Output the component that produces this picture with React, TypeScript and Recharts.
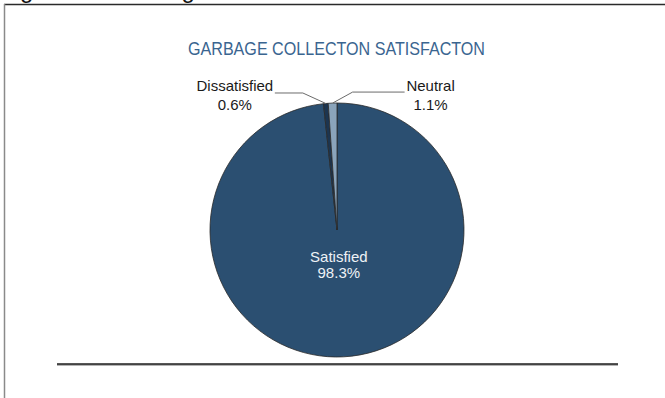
import React from 'react';
import { PieChart, Pie, Cell } from 'recharts';

const categories = ['Satisfied', 'Dissatisfied', 'Neutral'];
const shares = [98.3, 0.6, 1.1];
const chartTitle = 'GARBAGE COLLECTON SATISFACTON';
const captionText = 'Figure 10: Garbage Collection Satisfaction';

const sliceColors: Record<string, string> = {
  Satisfied: '#2b4f71',
  Dissatisfied: '#1c3550',
  Neutral: '#8aa4bb',
};

const data = categories.map((name, i) => ({ name, value: shares[i] }));

const LABEL_FONT = '"Liberation Sans", Arial, sans-serif';

const outsideLayout: Record<string, any> = {
  Dissatisfied: { elbowDx: -23, elbowDy: -10.5, endDx: -51, textDx: -91, l1: -12, l2: 7 },
  Neutral: { elbowDx: 20, elbowDy: -11, endDx: 72, textDx: 98, l1: -12, l2: 7 },
};

const RAD = Math.PI / 180;

function renderLabel(props: any) {
  const { cx, cy, midAngle, outerRadius, name, value } = props;
  const cos = Math.cos(-midAngle * RAD);
  const sin = Math.sin(-midAngle * RAD);
  const pct = `${Number(value).toFixed(1)}%`;
  if (name === 'Satisfied') {
    const d = 34;
    const x = cx + d * cos;
    const y = cy + d * sin;
    return (
      <g>
        <text x={x} y={y - 2} textAnchor="middle" fill="#eef2f6" fontSize={15} fontFamily={LABEL_FONT}>
          {name}
        </text>
        <text x={x} y={y + 14.5} textAnchor="middle" fill="#eef2f6" fontSize={15} fontFamily={LABEL_FONT}>
          {pct}
        </text>
      </g>
    );
  }
  const L = outsideLayout[name];
  const px = cx + outerRadius * cos;
  const py = cy + outerRadius * sin;
  const ex = px + L.elbowDx;
  const ey = py + L.elbowDy;
  const tx = px + L.textDx;
  return (
    <g>
      <polyline
        points={`${px},${py} ${ex},${ey} ${px + L.endDx},${ey}`}
        fill="none"
        stroke="#6b6b6b"
        strokeWidth={1}
      />
      <text x={tx} y={py + L.l1} textAnchor="middle" fill="#1a1a1a" fontSize={15} fontFamily={LABEL_FONT}>
        {name}
      </text>
      <text x={tx} y={py + L.l2} textAnchor="middle" fill="#1a1a1a" fontSize={15} fontFamily={LABEL_FONT}>
        {pct}
      </text>
    </g>
  );
}

export default function App() {
  return (
    <div style={{ position: 'absolute', left: 0, top: 0, width: 665, height: 398, background: '#fff', overflow: 'hidden' }}>
      <svg width={665} height={398} style={{ position: 'absolute', left: 0, top: 0 }}>
        <text x={0} y={-2} fontSize={24} fontFamily={LABEL_FONT} fill="#111">
          {captionText}
        </text>
        <line x1={4} y1={4.5} x2={665} y2={4.5} stroke="#2a2a2a" strokeWidth={1.3} />
        <line x1={4.5} y1={4} x2={4.5} y2={398} stroke="#8a8a8a" strokeWidth={1.5} />
        <text
          x={336.5}
          y={55}
          textAnchor="middle"
          fontSize={18}
          fontFamily={LABEL_FONT}
          fill="#3a6590"
          textLength={297}
          lengthAdjust="spacingAndGlyphs"
        >
          {chartTitle}
        </text>
        <line x1={57} y1={365} x2={618} y2={365} stroke="#9a9a9a" strokeWidth={1.5} />
        <line x1={57} y1={364} x2={618} y2={364} stroke="#1e1e1e" strokeWidth={1.5} />
      </svg>
      <div style={{ position: 'absolute', left: 0, top: 0 }}>
        <PieChart width={665} height={398} margin={{ top: 0, right: 0, bottom: 0, left: 0 }}>
          <Pie
            data={data}
            dataKey="value"
            nameKey="name"
            cx={337}
            cy={230}
            outerRadius={127}
            startAngle={90}
            endAngle={-270}
            stroke="#2a2a2a"
            strokeWidth={0.8}
            label={renderLabel}
            labelLine={false}
            isAnimationActive={false}
          >
            {data.map((d) => (
              <Cell key={d.name} fill={sliceColors[d.name]} />
            ))}
          </Pie>
        </PieChart>
      </div>
    </div>
  );
}
